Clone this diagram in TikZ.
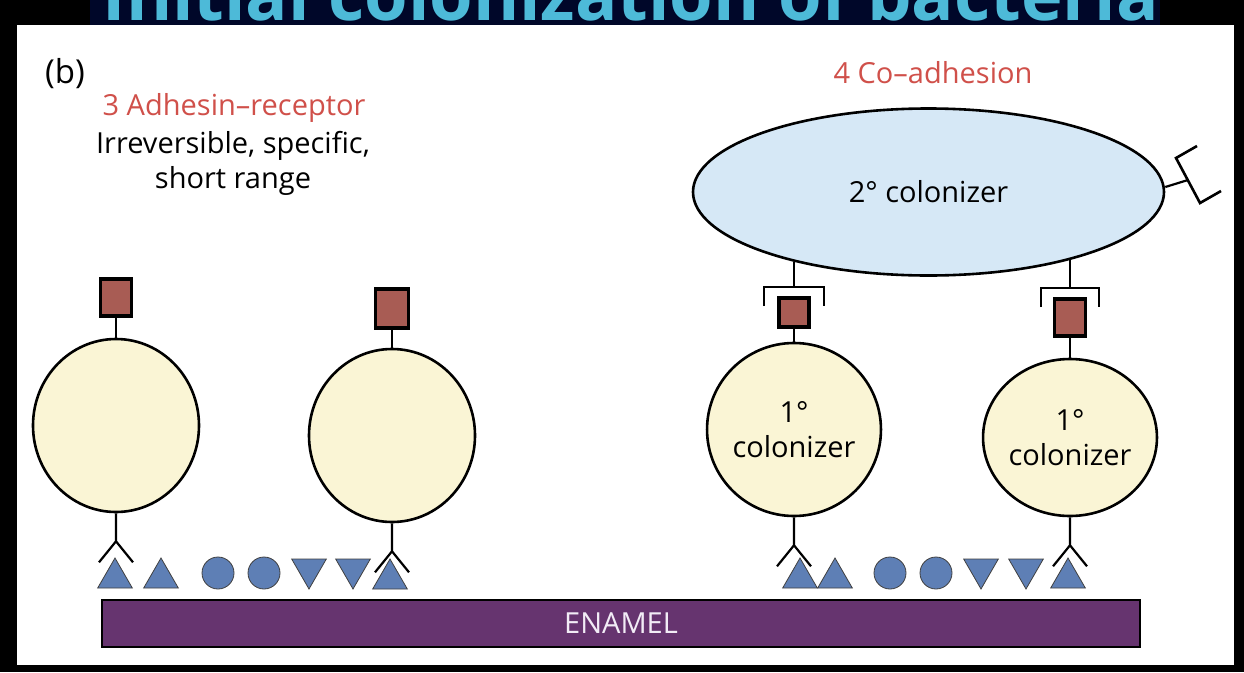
\documentclass[tikz,border=0pt]{standalone}
\usepackage{fontspec}
\setmainfont{Open Sans}
\usepackage{xcolor}
\usepackage{graphicx}
\usepackage{tikz}
\usetikzlibrary{positioning,shapes.geometric}

\definecolor{labelred}{HTML}{D0504A}
\definecolor{cellcream}{HTML}{FAF5D5}
\definecolor{adhred}{HTML}{A85C54}
\definecolor{rcpblue}{HTML}{5E7FB5}
\definecolor{secblue}{HTML}{D6E8F6}
\definecolor{enamelpurple}{HTML}{66346F}
\definecolor{enameltext}{HTML}{F2ECF6}
\definecolor{titlenavy}{HTML}{000729}
\definecolor{titlecyan}{HTML}{4DBAD8}

\newcommand{\labelsize}{\fontsize{29}{35}\selectfont}
\newcommand{\panelsize}{\fontsize{33}{40}\selectfont}

\begin{document}
\begin{tikzpicture}[
    x=1pt, y=-1pt,
    cell/.style={draw, ellipse, line width=2.6pt, fill=cellcream, inner sep=0pt, align=center, font=\labelsize},
    adhesin/.style={draw, rectangle, line width=3.4pt, fill=adhred, inner sep=0pt, minimum width=31pt, minimum height=37pt},
    uptri/.style={draw=black!75, regular polygon, regular polygon sides=3, fill=rcpblue, line width=0.8pt, inner sep=0pt, minimum size=40pt},
    downtri/.style={uptri, shape border rotate=180},
    bead/.style={draw=black!75, circle, fill=rcpblue, line width=0.8pt, inner sep=0pt, minimum size=32pt},
    labeltext/.style={font=\labelsize, inner sep=0pt},
    stem/.style={line width=2.2pt},
    clamp/.style={line width=2.6pt}
]
\useasboundingbox (0,0) rectangle (1244,672);

% Slide frame and the clipped heading above the panel.
\fill[black] (0,0) rectangle (1244,672);
\fill[white] (17,25) rectangle (1234,665);
\fill[titlenavy] (90,0) rectangle (1160,25);
\begin{scope}
\clip (90,0) rectangle (1160,25);
\node[anchor=base, text=titlecyan, inner sep=0pt, font=\bfseries] (heading) at (631,20) {\resizebox{1056pt}{54pt}{Initial colonization of bacteria}};
\end{scope}

% Captions.
\node[labeltext, anchor=base west, font=\panelsize] (panel) at (45,83) {(b)};
\node[labeltext, anchor=base, text=labelred] (adhTitle) at (234,115) {3 Adhesin–receptor};
\node[labeltext, anchor=north, align=center] (adhNote) at (233,131) {Irreversible, specific,\\short range};
\node[labeltext, anchor=base, text=labelred] (coTitle) at (933,83) {4 Co–adhesion};

% Bacterial cells.
\node[cell, minimum width=166pt, minimum height=173pt] (cellA) at (116,425.5) {};
\node[cell, minimum width=166pt, minimum height=173pt] (cellB) at (392,435.5) {};
\node[cell, minimum width=167pt, minimum height=173pt] (cellC) at (794,429.5) {1°\\colonizer};
\node[cell, minimum width=165pt, minimum height=157pt] (cellD) at (1070,437.5) {1°\\colonizer};
\node[cell, fill=secblue, minimum width=471pt, minimum height=167pt] (secondary) at (928.5,192) {2° colonizer};

% Adhesins on top of the cells.
\node[adhesin, above=20pt of cellA] (adhA) {};
\node[adhesin, minimum width=33pt, minimum height=39pt, above=18pt of cellB] (adhB) {};
\node[adhesin, minimum width=30pt, minimum height=29pt, above=13pt of cellC] (adhC) {};
\node[adhesin, above=20pt of cellD] (adhD) {};

\draw[stem] (adhA) -- (cellA);
\draw[stem] (adhB) -- (cellB);
\draw[stem] (adhC) -- (cellC);
\draw[stem] (adhD) -- (cellD);

% Receptors of the 2nd colonizer gripping the adhesins.
\coordinate (jointC) at (794,262);
\coordinate (recC) at (794,287);
\coordinate (jointD) at (1070,260);
\coordinate (recD) at (1070,288);
\draw[stem] (jointC) -- (recC);
\draw[stem] (jointD) -- (recD);
\draw[clamp] ([shift={(-30,19)}]recC) -- ([shift={(-30,0)}]recC) -- ([shift={(30,0)}]recC) -- ([shift={(30,19)}]recC);
\draw[clamp] ([shift={(-29,19)}]recD) -- ([shift={(-29,0)}]recD) -- ([shift={(29,0)}]recD) -- ([shift={(29,19)}]recD);

% Free receptor on the right side.
\coordinate (sideRec) at (1188,180);
\draw[stem] ([yshift=5pt]secondary.east) -- (sideRec);
\draw[clamp] ([shift={(9,-34)}]sideRec) -- ++(-21,12) -- ++(24,45) -- ++(21,-12);

% Forked adhesins underneath the cells.
\coordinate[below=28pt of cellA] (forkA);
\coordinate[below=28pt of cellB] (forkB);
\coordinate[below=28pt of cellC] (forkC);
\coordinate[below=28pt of cellD] (forkD);
\draw[stem] (cellA) -- (forkA) -- ++(-17,21) (forkA) -- ++(17,21);
\draw[stem] (cellB) -- (forkB) -- ++(-17,21) (forkB) -- ++(17,21);
\draw[stem] (cellC) -- (forkC) -- ++(-17,21) (forkC) -- ++(17,21);
\draw[stem] (cellD) -- (forkD) -- ++(-17,21) (forkD) -- ++(17,21);

% Pellicle receptors, left group.
\node[uptri] (triL1) at (115,578) {};
\node[uptri] (triL2) at (161,578) {};
\node[bead] (beadL1) at (218,573) {};
\node[bead] (beadL2) at (264,573) {};
\node[downtri] (vL1) at (309,569) {};
\node[downtri] (vL2) at (353,569) {};
\node[uptri] (triL3) at (390,579) {};

% Pellicle receptors, right group.
\node[uptri] (triR1) at (800,578) {};
\node[uptri] (triR2) at (835,578) {};
\node[bead] (beadR1) at (890,573) {};
\node[bead] (beadR2) at (936,573) {};
\node[downtri] (vR1) at (981,569) {};
\node[downtri] (vR2) at (1026,569) {};
\node[uptri] (triR3) at (1068,578) {};

% Tooth surface.
\node[draw=black, line width=1.6pt, fill=enamelpurple, text=enameltext, font=\labelsize, minimum width=1038pt, minimum height=47pt] (enamel) at (621,623.5) {ENAMEL};

\end{tikzpicture}
\end{document}
